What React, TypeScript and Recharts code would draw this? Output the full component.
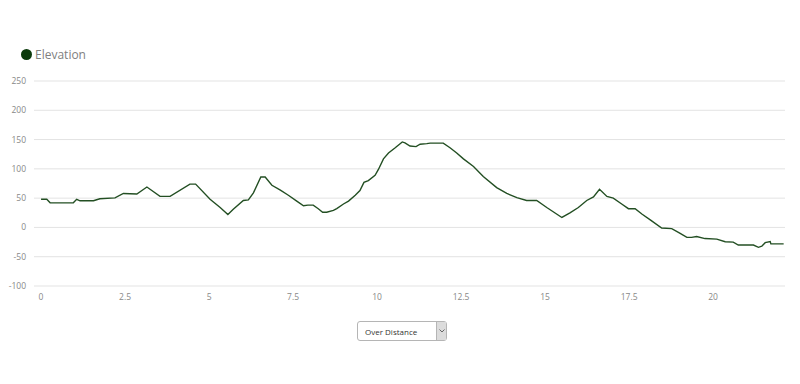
import { LineChart, Line, XAxis, YAxis, CartesianGrid } from 'recharts';

// distance along the route (km)
const distance = [
    0, 0.17, 0.27, 0.96, 1.06, 1.16, 1.56, 1.75, 2.2, 2.45, 2.85, 3.15, 3.54, 3.84, 4.43, 4.6,
    5.03, 5.33, 5.56, 5.72, 6.02, 6.17, 6.32, 6.54, 6.67, 6.87, 7.11, 7.36, 7.61, 7.81, 7.94,
    8.1, 8.25, 8.38, 8.5, 8.7, 8.8, 9.0, 9.15, 9.35, 9.49, 9.61, 9.74, 9.94, 10.04, 10.19,
    10.34, 10.54, 10.75, 10.83, 10.98, 11.16, 11.28, 11.48, 11.58, 11.97, 12.17, 12.37, 12.57,
    12.87, 13.16, 13.56, 13.86, 14.16, 14.45, 14.75, 15.05, 15.5, 15.74, 15.99, 16.24, 16.44,
    16.62, 16.84, 17.03, 17.28, 17.48, 17.68, 17.88, 18.13, 18.47, 18.77, 19.02, 19.22, 19.36,
    19.51, 19.76, 20.11, 20.36, 20.6, 20.75, 21.2, 21.35, 21.45, 21.55, 21.7, 21.72, 22.1
];

// elevation (m)
const elevation = [
    48, 48, 42, 42, 48, 45.5, 45.5, 49, 50.5, 58, 57, 69, 53, 53, 74, 74,
    48, 34, 22, 31, 46, 47, 59, 86, 86, 72, 64, 55, 45, 37, 38,
    38, 32, 26, 26, 29, 32, 40, 45, 55, 63, 77, 80, 89, 99, 117,
    127, 136, 146, 144.5, 139, 138, 142, 143, 144, 144, 136, 127, 117,
    104, 87, 68, 58, 51, 46, 46, 34, 17, 25, 34, 46, 52,
    65, 53, 50, 40, 32, 32, 23, 13, -1, -2, -10, -17, -17,
    -15.5, -19, -20, -24.5, -25, -30, -30, -34, -32, -26, -24, -28, -28
];

const xTicks = [0, 2.5, 5, 7.5, 10, 12.5, 15, 17.5, 20];
const yTicks = [-100, -50, 0, 50, 100, 150, 200, 250];

const data = distance.map((d, i) => ({ distance: d, elevation: elevation[i] }));

const FONT = '"Open Sans", sans-serif';
const LINE_COLOR = '#234f23';

export default function App() {
    return (
        <div style={{ position: 'absolute', left: 0, top: 0, width: 800, height: 384, background: '#fff', fontFamily: FONT }}>
            {/* legend */}
            <div style={{ position: 'absolute', left: 21, top: 46, display: 'flex', alignItems: 'center', gap: 3 }}>
                <div style={{ width: 11, height: 11, borderRadius: '50%', background: '#0b3a0b' }} />
                <span style={{ fontSize: 12, color: '#808080' }}>Elevation</span>
            </div>

            <div style={{ position: 'absolute', left: 0, top: 0 }}>
                <LineChart
                    width={800}
                    height={384}
                    data={data}
                    margin={{ top: 81, right: 15, left: 0, bottom: 68 }}
                >
                    <CartesianGrid horizontal={true} vertical={false} stroke="#e3e3e3" strokeWidth={1} />
                    <XAxis
                        dataKey="distance"
                        type="number"
                        domain={[-0.21, 22.14]}
                        ticks={xTicks}
                        allowDataOverflow
                        axisLine={false}
                        tickLine={false}
                        height={30}
                        tick={{ fill: '#888', fontSize: 8.5, fontFamily: FONT }}
                    />
                    <YAxis
                        type="number"
                        domain={[-100, 250]}
                        ticks={yTicks}
                        axisLine={false}
                        tickLine={false}
                        width={34}
                        tick={{ fill: '#888', fontSize: 8.5, fontFamily: FONT }}
                    />
                    <Line
                        type="linear"
                        dataKey="elevation"
                        stroke={LINE_COLOR}
                        strokeWidth={1.4}
                        dot={false}
                        isAnimationActive={false}
                    />
                </LineChart>
            </div>

            {/* distance / time selector */}
            <div style={{
                position: 'absolute',
                left: 357,
                top: 321,
                width: 88,
                height: 18,
                border: '1px solid #b5b5b5',
                borderRadius: 3,
                background: '#fff',
                display: 'flex',
                alignItems: 'center',
                boxSizing: 'content-box'
            }}>
                <span style={{ fontSize: 8, color: '#333', paddingLeft: 7, flex: 1 }}>Over Distance</span>
                <div style={{
                    width: 9,
                    height: 18,
                    background: '#dcdcdc',
                    borderLeft: '1px solid #b5b5b5',
                    display: 'flex',
                    alignItems: 'center',
                    justifyContent: 'center'
                }}>
                    <svg width="6" height="4" viewBox="0 0 6 4">
                        <path d="M0.5 0.5 L3 3 L5.5 0.5" stroke="#666" strokeWidth="1" fill="none" />
                    </svg>
                </div>
            </div>
        </div>
    );
}
